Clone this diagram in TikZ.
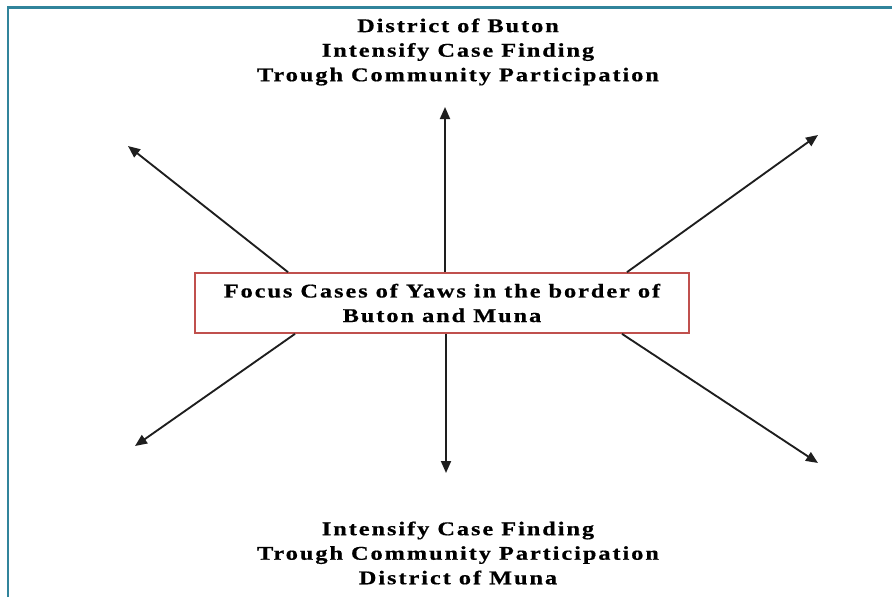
\documentclass[tikz,border=0pt]{standalone}
\usepackage{fontspec}
\setmainfont{Liberation Serif}
\newfontfamily\diagfont[FakeStretch=1.25,LetterSpace=10,FakeBold=0.6]{Liberation Serif}
\usetikzlibrary{arrows.meta}

\definecolor{framecol}{RGB}{49,132,155}
\definecolor{boxcol}{RGB}{192,80,77}

\tikzset{every picture/.style={line width=0.75pt}}
\tikzset{
  labeltext/.style={align=center, inner sep=0.75pt,
    font=\diagfont\bfseries\fontsize{14.6pt}{18.4pt}\selectfont},
  focusbox/.style={labeltext, draw=boxcol, line width=1.3pt, fill=white,
    minimum width=370.5pt, minimum height=45pt},
  spoke/.style={draw={rgb,255:red,30;green,30;blue,30}, line width=1.4pt,
    -{Triangle[length=9pt,width=7.5pt]}}
}

\begin{document}
\begin{tikzpicture}[x=0.75pt,y=0.75pt,yscale=-1,xscale=1]
\useasboundingbox (0,0) rectangle (892,597);

%Frame
\draw [color=framecol, line width=2.2pt] (8,597) -- (8,7.5) -- (892,7.5) ;

% Text Node
\node [focusbox] (focus) at (442,303) {Focus Cases of Yaws in the border of\\Buton and Muna};
% Text Node
\node [labeltext] (buton) at (458,52) {District of Buton\\Intensify Case Finding\\Trough Community Participation};
% Text Node
\node [labeltext] (muna) at (458,553) {Intensify Case Finding\\Trough Community Participation\\District of Muna};

%Arrow ends
\coordinate (nw) at (128,146) ;
\coordinate (n) at (445,107) ;
\coordinate (ne) at (818,135) ;
\coordinate (sw) at (135,446) ;
\coordinate (s) at (446,473) ;
\coordinate (se) at (818,463) ;

%Straight Lines
\draw [spoke] ([shift={(-154,0)}]focus.north) -- (nw) ;
\draw [spoke] ([shift={(3,0)}]focus.north) -- (n) ;
\draw [spoke] ([shift={(185,0)}]focus.north) -- (ne) ;
\draw [spoke] ([shift={(-147,0)}]focus.south) -- (sw) ;
\draw [spoke] ([shift={(4,0)}]focus.south) -- (s) ;
\draw [spoke] ([shift={(180,0)}]focus.south) -- (se) ;

\end{tikzpicture}
\end{document}
